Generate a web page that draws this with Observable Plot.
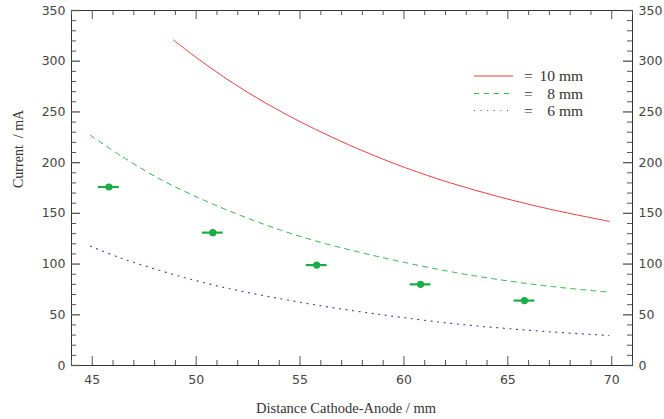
<!DOCTYPE html>
<html><head><meta charset="utf-8">
<script src="https://cdn.jsdelivr.net/npm/d3@7"></script>
<script src="https://cdn.jsdelivr.net/npm/@observablehq/plot@0.6"></script>
<style>
html,body{margin:0;padding:0;background:#fff;}
#wrap{position:relative;width:664px;height:419px;}
#legend{position:absolute;left:0;top:0;pointer-events:none;}
</style></head><body><div id="wrap"></div>
<script>
// ---- data ----
const xTicks = [45, 50, 55, 60, 65, 70];
const yTicks = [0, 50, 100, 150, 200, 250, 300, 350];

const dist10 = [48.9, 50.13, 51.73, 53.34, 54.94, 56.55, 58.15, 60.07, 62.24, 64.64, 67.05, 69.9];
const cur10  = [321, 301.8, 279, 258.8, 241, 225, 210.5, 195, 180, 166, 154, 142];

const dist8 = [44.91, 46.36, 48.28, 50.21, 52.13, 54.06, 55.98, 57.9, 59.83, 62.24, 64.64, 67.05, 69.86];
const cur8  = [227, 207, 183.5, 164.5, 148, 133.5, 121.5, 111.5, 102.5, 92.5, 84.5, 78, 72.3];

const dist6 = [44.91, 46.36, 48.28, 50.21, 52.13, 54.06, 55.98, 57.9, 59.83, 62.24, 64.64, 67.05, 69.86];
const cur6  = [117.6, 106, 93.5, 82.5, 73.5, 65.8, 59, 53, 47.6, 41.6, 37, 33.2, 29.6];

const measDist = [45.8, 50.8, 55.8, 60.8, 65.8];
const measCur  = [176, 131, 99, 80, 64];
const measErr  = [0.5, 0.5, 0.5, 0.5, 0.5];

const legendGaps = ["10 mm", "8 mm", "6 mm"];
const xLabel = "Distance Cathode-Anode / mm";
const yLabel = "Current  / mA";

// ---- styles ----
const colors = ["#e8403f", "#36b552", "#4646b8"];
const dashes = [null, "5,5", "1,5.6"];
const widths = [1, 1, 1.2];
const pointColor = "#1bab47";

const W = 664, H = 419, mL = 71, mR = 32, mT = 10, mB = 54;
const iw = W - mL - mR, ih = H - mT - mB;
const majorLen = 9, minorLen = 5;

const toRows = (xs, ys) => xs.map((x, i) => ({x, y: ys[i]}));
const series = [toRows(dist10, cur10), toRows(dist8, cur8), toRows(dist6, cur6)];
const meas = measDist.map((x, i) => ({x, y: measCur[i], e: measErr[i]}));

const xMinor = d3.range(44, 72).filter(v => !xTicks.includes(v));
const yMinor = d3.range(0, 351, 10).filter(v => !yTicks.includes(v));
const tickColor = "#555";

const chart = Plot.plot({
  width: W, height: H,
  marginLeft: mL, marginRight: mR, marginTop: mT, marginBottom: mB,
  x: {domain: [44, 71]},
  y: {domain: [0, 350]},
  style: {fontFamily: "DejaVu Sans", fontSize: "12.5px", color: "#444", background: "#fff"},
  marks: [
    ...series.map((rows, i) => Plot.line(rows, {
      x: "x", y: "y", stroke: colors[i], strokeWidth: widths[i],
      strokeDasharray: dashes[i], curve: "catmull-rom"
    })),
    Plot.ruleY(meas, {y: "y", x1: d => d.x - d.e, x2: d => d.x + d.e, stroke: pointColor, strokeWidth: 2.2}),
    Plot.dot(meas, {x: "x", y: "y", r: 3.6, fill: pointColor, stroke: "none"}),
    Plot.frame({stroke: "#333"}),
    // inward ticks: bottom & top
    Plot.tickX(xTicks, {x: d => d, insetTop: ih - majorLen, stroke: tickColor}),
    Plot.tickX(xMinor, {x: d => d, insetTop: ih - minorLen, stroke: tickColor}),
    Plot.tickX(xTicks, {x: d => d, insetBottom: ih - majorLen, stroke: tickColor}),
    Plot.tickX(xMinor, {x: d => d, insetBottom: ih - minorLen, stroke: tickColor}),
    // inward ticks: left & right
    Plot.tickY(yTicks, {y: d => d, insetRight: iw - majorLen, stroke: tickColor, strokeWidth: 1.3}),
    Plot.tickY(yMinor, {y: d => d, insetRight: iw - minorLen, stroke: tickColor}),
    Plot.tickY(yTicks, {y: d => d, insetLeft: iw - majorLen, stroke: tickColor, strokeWidth: 1.3}),
    Plot.tickY(yMinor, {y: d => d, insetLeft: iw - minorLen, stroke: tickColor}),
    // labels
    Plot.axisX(xTicks, {anchor: "bottom", tickSize: 0, tickPadding: 10, label: null}),
    Plot.axisY(yTicks, {anchor: "left", tickSize: 0, tickPadding: 6, label: null}),
    Plot.axisY(yTicks, {anchor: "right", tickSize: 0, tickPadding: 6, label: null}),
    Plot.text([xLabel], {text: d => d, frameAnchor: "bottom", dy: 43, dx: -6, lineAnchor: "middle",
      fontFamily: "Liberation Serif", fontSize: 14.5, fill: "#333"}),
    Plot.text([yLabel], {text: d => d, frameAnchor: "left", dx: -53, rotate: -90, lineAnchor: "middle",
      fontFamily: "Liberation Serif", fontSize: 14, fill: "#333"})
  ]
});
const wrap = document.getElementById("wrap");
wrap.appendChild(chart);

// ---- legend overlay ----
const leg = d3.select(wrap).append("svg").attr("id", "legend").attr("width", W).attr("height", H);
const rowY = [76, 93.5, 110.5];
legendGaps.forEach((g, i) => {
  const row = leg.append("g").attr("transform", `translate(0,${rowY[i]})`);
  row.append("line").attr("x1", 474).attr("x2", 513).attr("y1", 0).attr("y2", 0)
    .attr("stroke", colors[i]).attr("stroke-width", widths[i])
    .attr("stroke-dasharray", dashes[i]);
  row.append("text").attr("x", 524).attr("y", 5).text("=")
    .attr("font-family", "Liberation Serif").attr("font-size", 15.5).attr("fill", "#333");
  row.append("text").attr("x", 583).attr("y", 5).attr("text-anchor", "end").text(g)
    .attr("font-family", "Liberation Serif").attr("font-size", 15.5).attr("fill", "#333");
});
</script></body></html>
